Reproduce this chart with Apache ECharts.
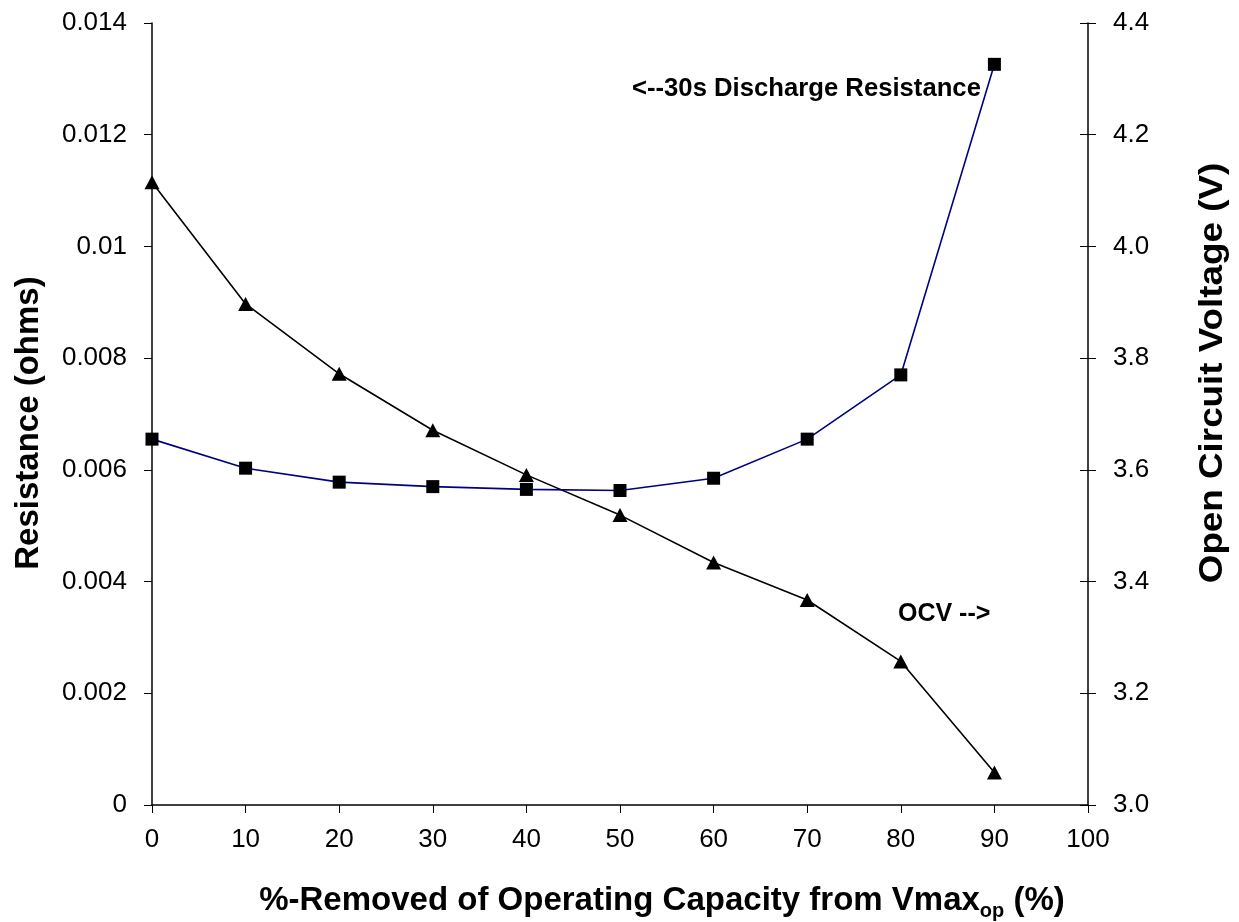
<!DOCTYPE html>
<html>
<head>
<meta charset="utf-8">
<script src="https://cdn.jsdelivr.net/npm/echarts@6/dist/echarts.min.js"></script>
<style>
  html, body { margin: 0; padding: 0; background: #fff; }
  #main { width: 1239px; height: 922px; }
</style>
</head>
<body>
<div id="main"></div>
<script>
const capacityRemoved = [0, 10, 20, 30, 40, 50, 60, 70, 80, 90];
const resistance = [0.00655, 0.00603, 0.00578, 0.00570, 0.00565, 0.00563, 0.00585, 0.00655, 0.00770, 0.01326];
const ocv = [4.115, 3.897, 3.772, 3.671, 3.591, 3.519, 3.434, 3.367, 3.257, 3.058];
const leftTicks = ["0", "0.002", "0.004", "0.006", "0.008", "0.01", "0.012", "0.014"];
const rightTicks = ["3.0", "3.2", "3.4", "3.6", "3.8", "4.0", "4.2", "4.4"];

const FONT = "'Liberation Sans', Arial, sans-serif";

class DualAxisChart {
  constructor(el) {
    this.el = el;
    this.chart = echarts.init(this.el, null, { renderer: "canvas" });
    this.setup();
  }

  setup() {
    const tickLabel = { color: "#000", fontFamily: FONT, fontSize: 26 };
    const axisLine = { show: true, lineStyle: { color: "#000", width: 1.5 } };
    const tick = { show: true, length: 8, lineStyle: { color: "#000", width: 1 } };

    this.chart.setOption({
      animation: false,
      backgroundColor: "#fff",
      grid: { left: 152, right: 151, top: 23, bottom: 117 },
      xAxis: {
        type: "value",
        min: 0,
        max: 100,
        interval: 10,
        axisLine: axisLine,
        axisTick: tick,
        splitLine: { show: false },
        axisLabel: Object.assign({ margin: 22 }, tickLabel)
      },
      yAxis: [
        {
          type: "value",
          position: "left",
          min: 0,
          max: 0.014,
          interval: 0.002,
          axisLine: axisLine,
          axisTick: tick,
          splitLine: { show: false },
          axisLabel: Object.assign({
            margin: 25,
            formatter: (v) => leftTicks[Math.round(v / 0.002)]
          }, tickLabel)
        },
        {
          type: "value",
          position: "right",
          min: 3.0,
          max: 4.4,
          interval: 0.2,
          axisLine: axisLine,
          axisTick: tick,
          splitLine: { show: false },
          axisLabel: Object.assign({
            margin: 25,
            formatter: (v) => rightTicks[Math.round((v - 3.0) / 0.2)]
          }, tickLabel)
        },
        {
          // inner half of the crossing ticks on the right axis
          type: "value",
          position: "right",
          min: 3.0,
          max: 4.4,
          interval: 0.2,
          axisLine: { show: false },
          axisTick: { show: true, inside: true, length: 8, lineStyle: { color: "#000", width: 1 } },
          axisLabel: { show: false },
          splitLine: { show: false }
        }
      ],
      graphic: [
        {
          type: "text",
          x: 29,
          y: 423,
          rotation: Math.PI / 2,
          style: {
            text: "Resistance (ohms)",
            font: "bold 33px " + FONT,
            fill: "#000",
            textAlign: "center",
            textVerticalAlign: "middle"
          }
        },
        {
          type: "text",
          x: 1213,
          y: 373,
          rotation: Math.PI / 2,
          scaleX: 1.115,
          style: {
            text: "Open Circuit Voltage (V)",
            font: "bold 33px " + FONT,
            fill: "#000",
            textAlign: "center",
            textVerticalAlign: "middle"
          }
        },
        {
          type: "text",
          x: 662,
          y: 901,
          style: {
            text: "{a|%-Removed of Operating Capacity from Vmax}{s|op}{a| (%)}",
            fill: "#000",
            textAlign: "center",
            textVerticalAlign: "middle",
            rich: {
              a: { fontFamily: FONT, fontWeight: "bold", fontSize: 33, fill: "#000" },
              s: { fontFamily: FONT, fontWeight: "bold", fontSize: 20, fill: "#000", padding: [20, 0, 0, 0] }
            }
          }
        },
        {
          type: "text",
          x: 632,
          y: 89,
          scaleX: 1.027,
          style: {
            text: "<--30s Discharge Resistance",
            font: "bold 25px " + FONT,
            fill: "#000",
            textAlign: "left",
            textVerticalAlign: "middle"
          }
        },
        {
          type: "text",
          x: 898,
          y: 614,
          style: {
            text: "OCV -->",
            font: "bold 25px " + FONT,
            fill: "#000",
            textAlign: "left",
            textVerticalAlign: "middle"
          }
        }
      ],
      series: [
        {
          name: "30s Discharge Resistance",
          type: "line",
          yAxisIndex: 0,
          data: capacityRemoved.map((x, i) => [x, resistance[i]]),
          symbol: "rect",
          symbolSize: 13,
          showAllSymbol: true,
          lineStyle: { color: "#000080", width: 1.6 },
          itemStyle: { color: "#000" },
          z: 3
        },
        {
          name: "OCV",
          type: "line",
          yAxisIndex: 1,
          data: capacityRemoved.map((x, i) => [x, ocv[i]]),
          symbol: "triangle",
          symbolSize: [15, 14],
          showAllSymbol: true,
          lineStyle: { color: "#000", width: 1.6 },
          itemStyle: { color: "#000" },
          z: 2
        }
      ]
    });
  }
}

document.addEventListener("DOMContentLoaded", function() {
  const container = document.querySelector("#main");
  const chart = new DualAxisChart(container);
});
</script>
</body>
</html>
